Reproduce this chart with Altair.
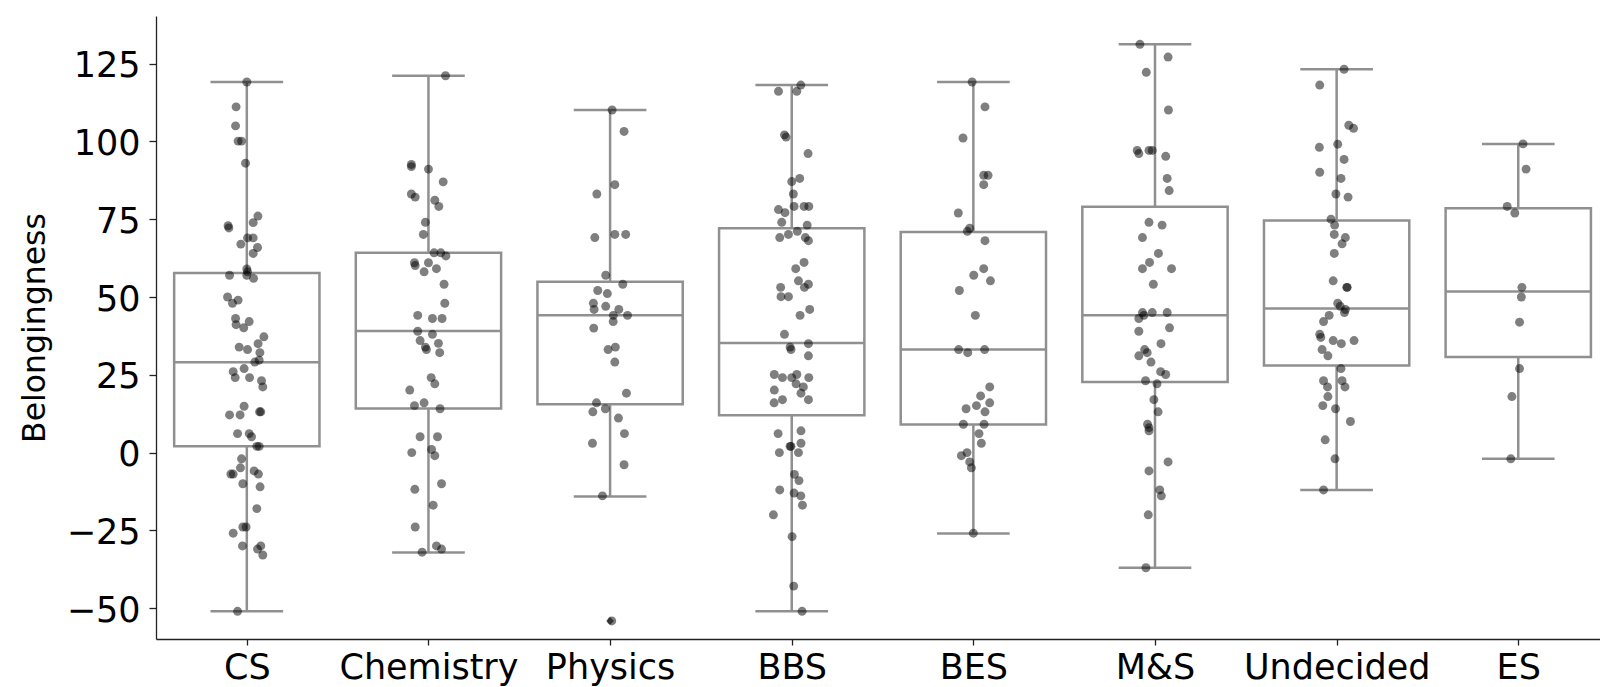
import json
import altair as alt
import pandas as pd

categories = ["CS", "Chemistry", "Physics", "BBS", "BES", "M&S", "Undecided", "ES"]

# Per-category point values and the horizontal jitter
cs_vals = [119.1, 111.1, 105.0, 100.1, 100.1, 93.0, 76.0, 73.9, 72.9, 72.2, 69.0, 69.0, 67.0, 65.9,
           64.0, 59.0, 58.1, 57.0, 57.0, 56.0, 50.0, 48.0, 49.0, 43.1, 42.1, 41.1, 40.1, 37.2, 35.0,
           33.9, 33.1, 32.1, 29.1, 29.7, 26.0, 27.0, 24.1, 24.1, 23.1, 21.1, 14.9, 12.1, 12.1, 13.1,
           13.1, 6.1, 6.1, 5.1, 2.0, 2.0, -2.0, -4.9, -6.9, -6.9, -5.9, -6.9, -10.0, -11.0, -18.0,
           -23.9, -23.9, -25.9, -30.0, -30.0, -31.0, -32.9, -51.0]
cs_jit = [0.0, -0.059, -0.062, -0.048, -0.029, -0.007, 0.061, 0.035, -0.103, -0.099, 0.004, 0.035,
          -0.033, 0.059, 0.035, 0.0, 0.004, -0.095, 0.0, 0.037, -0.106, -0.079, -0.048, -0.062, 0.013,
          -0.059, -0.017, 0.094, 0.062, -0.042, 0.004, 0.072, 0.044, 0.068, -0.075, -0.015, -0.064,
          0.015, 0.081, 0.088, -0.015, -0.095, -0.037, 0.070, 0.077, -0.051, 0.013, 0.026, 0.055,
          0.068, -0.029, -0.035, -0.088, -0.075, 0.040, 0.064, -0.022, 0.073, 0.055, -0.022, -0.004,
          -0.075, -0.024, 0.077, 0.059, 0.088, -0.051]

chem_vals = [121.1, 92.6, 91.9, 91.1, 87.0, 83.1, 82.1, 81.1, 79.1, 74.0, 70.1, 64.2, 64.2, 63.2,
             61.0, 60.1, 61.0, 59.1, 58.1, 54.1, 48.0, 44.1, 43.1, 43.1, 39.0, 38.0, 36.0, 35.1, 33.9,
             33.1, 32.1, 24.1, 22.1, 20.1, 15.1, 16.0, 14.1, 5.1, 5.1, 0.0, 1.0, -1.0, -11.8, -10.0,
             -16.9, -23.9, -30.0, -31.0, -32.0]
chem_jit = [0.094, -0.094, -0.094, 0.0, 0.081, -0.094, -0.073, 0.035, 0.057, -0.017, -0.028, 0.031,
            0.068, 0.096, -0.077, -0.073, 0.0, 0.044, -0.024, 0.086, 0.090, -0.059, 0.022, 0.075,
            -0.059, 0.022, -0.046, 0.055, -0.017, -0.011, 0.062, 0.015, 0.035, -0.103, -0.077, -0.024,
            0.064, -0.046, 0.050, -0.092, 0.017, 0.035, -0.075, 0.072, 0.026, -0.073, 0.044, 0.072,
            -0.035]

phys_vals = [110.1, 103.2, 86.1, 83.1, 70.1, 70.1, 69.1, 57.0, 54.1, 52.1, 51.1, 48.0, 46.0, 47.0,
             46.0, 44.1, 44.1, 42.1, 40.0, 33.1, 33.9, 29.1, 19.1, 16.0, 14.1, 13.1, 11.1, 6.1, 3.0,
             -3.9, -13.9, -54.1]
phys_jit = [0.011, 0.077, 0.026, -0.073, 0.026, 0.086, -0.084, -0.024, 0.070, -0.068, -0.015, -0.092,
            -0.088, -0.024, 0.048, 0.018, 0.096, 0.017, -0.090, -0.011, 0.029, 0.026, 0.090, -0.075,
            -0.026, -0.095, 0.046, 0.079, -0.097, 0.077, -0.042, 0.009]

bbs_vals = [118.1, 116.1, 116.1, 102.1, 101.4, 96.1, 87.1, 88.1, 83.1, 78.1, 77.1, 79.1, 79.1, 79.1,
            74.0, 73.1, 69.1, 70.1, 71.1, 69.1, 68.1, 61.1, 59.1, 55.2, 54.1, 53.1, 53.1, 50.1, 50.1,
            44.1, 46.0, 38.0, 33.9, 33.1, 35.0, 31.1, 25.1, 24.1, 24.1, 25.1, 24.1, 22.1, 21.1, 20.1,
            19.1, 17.0, 16.0, 17.0, 6.1, 7.0, 2.0, 2.0, 3.0, 0.0, 0.0, -7.0, -9.0, -12.0, -13.0, -13.9,
            -16.9, -20.0, -27.0, -42.9, -51.0]
bbs_jit = [0.050, -0.073, 0.028, -0.040, -0.031, 0.090, 0.0, 0.044, 0.009, -0.073, -0.037, 0.013,
           0.068, 0.094, -0.055, 0.085, -0.066, -0.018, 0.031, 0.075, 0.092, 0.068, 0.022, 0.037,
           0.092, 0.070, -0.061, -0.059, -0.018, 0.046, 0.099, -0.040, -0.009, -0.004, 0.092, 0.092,
           -0.096, -0.051, 0.0, 0.028, 0.094, 0.024, 0.064, -0.096, 0.051, -0.051, -0.097, 0.092,
           -0.075, 0.051, -0.009, -0.004, 0.051, -0.068, 0.037, 0.015, 0.040, -0.066, 0.013, 0.050,
           0.059, -0.101, 0.002, 0.011, 0.057]

bes_vals = [119.1, 111.1, 101.1, 89.1, 89.1, 86.1, 77.0, 71.1, 72.1, 68.1, 59.1, 57.0, 55.2, 52.1,
            44.1, 33.1, 32.1, 33.1, 21.1, 18.2, 15.1, 16.0, 13.1, 14.1, 9.1, 9.1, 6.1, 3.0, -1.0, 0.0,
            -3.0, -4.9, -25.9]
bes_jit = [-0.007, 0.064, -0.057, 0.057, 0.081, 0.057, -0.083, -0.033, -0.020, 0.064, 0.057, 0.002,
           0.094, -0.077, 0.011, -0.081, -0.031, 0.062, 0.090, 0.040, 0.017, 0.090, 0.064, -0.040,
           -0.055, 0.059, 0.031, 0.044, -0.066, -0.035, -0.020, -0.011, 0.0]

ms_vals = [131.2, 127.1, 122.2, 110.1, 97.1, 96.1, 97.1, 97.1, 95.2, 88.1, 84.2, 74.0, 73.1, 69.1,
           64.0, 61.1, 59.1, 59.1, 54.1, 45.0, 45.0, 45.0, 43.1, 44.1, 40.1, 39.0, 35.0, 33.1, 32.1,
           31.1, 29.1, 26.0, 25.1, 23.1, 22.1, 17.0, 13.1, 9.1, 8.0, 7.0, -3.0, -5.9, -12.0, -13.9,
           -20.0, -37.0]
ms_jit = [-0.083, 0.072, -0.048, 0.074, -0.098, -0.089, -0.033, -0.015, 0.059, 0.067, 0.078, -0.033,
          0.039, -0.069, 0.019, -0.030, -0.069, 0.091, -0.009, -0.069, -0.015, 0.067, -0.089, -0.061,
          0.080, -0.089, 0.033, -0.057, -0.043, -0.089, -0.022, 0.031, 0.059, -0.052, 0.011, -0.006,
          0.017, -0.041, -0.033, -0.033, 0.072, -0.033, 0.026, 0.035, -0.037, -0.050]

und_vals = [123.2, 118.1, 105.2, 104.2, 98.1, 99.1, 94.2, 90.1, 88.1, 83.1, 82.1, 75.0, 73.1, 70.1,
            69.1, 67.1, 64.0, 55.2, 53.1, 53.1, 48.0, 47.0, 46.0, 45.0, 44.1, 42.1, 38.0, 37.0, 36.0,
            35.0, 36.0, 33.1, 31.1, 27.0, 23.1, 21.1, 23.1, 21.1, 18.0, 15.1, 14.1, 10.0, 4.1, -2.0,
            -12.0]
und_jit = [0.041, -0.093, 0.067, 0.093, -0.095, 0.006, 0.041, -0.093, 0.024, -0.004, 0.063, -0.031,
           -0.011, -0.013, 0.048, 0.030, -0.013, -0.019, 0.056, 0.058, 0.006, 0.020, 0.048, 0.043,
           -0.041, -0.072, -0.093, -0.087, -0.019, 0.026, 0.096, -0.080, -0.048, 0.024, -0.072,
           -0.050, 0.030, 0.046, -0.048, -0.076, -0.006, 0.076, -0.063, -0.009, -0.072]

es_vals = [99.2, 91.1, 79.1, 77.0, 53.1, 50.0, 41.9, 27.0, 18.0, -2.0]
es_jit = [0.026, 0.043, -0.061, -0.019, 0.020, 0.017, 0.007, 0.007, -0.035, -0.041]

# Box statistics
q1 = [2.0, 14.2, 15.5, 12.0, 9.0, 22.7, 28.0, 30.7]
median = [29.0, 39.1, 44.1, 35.2, 33.1, 44.1, 46.3, 51.8]
q3 = [57.7, 64.2, 54.9, 72.1, 70.9, 79.0, 74.6, 78.5]
whisk_lo = [-51.0, -32.1, -14.1, -51.0, -26.0, -37.0, -12.0, -2.0]
whisk_hi = [119.1, 121.1, 110.1, 118.1, 119.1, 131.2, 123.2, 99.2]

# Outlier (flier)
flier_cat = [2]
flier_val = [-54.1]

yticks = [-50, -25, 0, 25, 50, 75, 100, 125]

all_vals = [cs_vals, chem_vals, phys_vals, bbs_vals, bes_vals, ms_vals, und_vals, es_vals]
all_jit = [cs_jit, chem_jit, phys_jit, bbs_jit, bes_jit, ms_jit, und_jit, es_jit]

rows = []
for i, (vs, js) in enumerate(zip(all_vals, all_jit)):
    for v, j in zip(vs, js):
        rows.append({"idx": i, "jit": j, "val": v})
pts = pd.DataFrame(rows)

stats = pd.DataFrame({"idx": list(range(len(categories))), "q1": q1, "med": median,
                      "q3": q3, "lo": whisk_lo, "hi": whisk_hi})
fliers = pd.DataFrame({"idx": flier_cat, "val": flier_val})

GRAY = "#909090"
LW = 2.5

xscale = alt.Scale(domain=[-0.5, 7.45], nice=False, zero=False)
yscale = alt.Scale(domain=[-59.9, 140.3], nice=False, zero=False)
label_expr = json.dumps(categories) + "[datum.value]"
xaxis = alt.Axis(values=list(range(len(categories))), labelExpr=label_expr, grid=False,
                 tickSize=6, labelPadding=5, labelFontSize=35, labelOverlap=False,
                 labelFlush=False, labelBound=False, labelLimit=0)
yaxis = alt.Axis(values=yticks, grid=False, tickSize=7, labelPadding=9, labelFontSize=35,
                 labelOffset=2, titleFontSize=31.5, titlePadding=15, labelOverlap=False,
                 labelLimit=0)
YT = "Belongingness"

base = alt.Chart(stats).transform_calculate(
    left="datum.idx - 0.4", right="datum.idx + 0.4",
    cl="datum.idx - 0.2", cr="datum.idx + 0.2")

box = base.mark_rect(fill="white", stroke=GRAY, strokeWidth=LW).encode(
    x=alt.X("left:Q", scale=xscale, axis=xaxis, title=None),
    x2="right:Q",
    y=alt.Y("q1:Q", scale=yscale, axis=yaxis, title=YT),
    y2="q3:Q")

wlo = base.mark_rule(color=GRAY, strokeWidth=LW).encode(
    x=alt.X("idx:Q", scale=xscale, axis=xaxis, title=None),
    y=alt.Y("lo:Q", scale=yscale, axis=yaxis, title=YT), y2="q1:Q")
whi = base.mark_rule(color=GRAY, strokeWidth=LW).encode(
    x=alt.X("idx:Q", scale=xscale, axis=xaxis, title=None),
    y=alt.Y("q3:Q", scale=yscale, axis=yaxis, title=YT), y2="hi:Q")
clo = base.mark_rule(color=GRAY, strokeWidth=LW).encode(
    x=alt.X("cl:Q", scale=xscale, axis=xaxis, title=None), x2="cr:Q",
    y=alt.Y("lo:Q", scale=yscale, axis=yaxis, title=YT))
chi = base.mark_rule(color=GRAY, strokeWidth=LW).encode(
    x=alt.X("cl:Q", scale=xscale, axis=xaxis, title=None), x2="cr:Q",
    y=alt.Y("hi:Q", scale=yscale, axis=yaxis, title=YT))
med = base.mark_rule(color=GRAY, strokeWidth=LW).encode(
    x=alt.X("left:Q", scale=xscale, axis=xaxis, title=None), x2="right:Q",
    y=alt.Y("med:Q", scale=yscale, axis=yaxis, title=YT))

fl = alt.Chart(fliers).mark_point(shape="diamond", filled=True, color="#555555",
                                   opacity=0.9, size=60).encode(
    x=alt.X("idx:Q", scale=xscale, axis=xaxis, title=None),
    y=alt.Y("val:Q", scale=yscale, axis=yaxis, title=YT))

points = alt.Chart(pts).transform_calculate(pos="datum.idx + datum.jit").mark_circle(
    color="black", opacity=0.5, size=80).encode(
    x=alt.X("pos:Q", scale=xscale, axis=xaxis, title=None),
    y=alt.Y("val:Q", scale=yscale, axis=yaxis, title=YT))

chart = alt.layer(box, wlo, whi, clo, chi, med, fl, points).properties(
    width=1444, height=623, autosize="none",
    padding={"left": 148, "top": 8, "right": 0, "bottom": 48},
    background="white",
).configure_view(stroke=None).configure_axis(
    labelFont="DejaVu Sans", titleFont="DejaVu Sans", labelColor="black",
    titleColor="black", titleFontWeight="normal", domainColor="#222222",
    tickColor="#222222", domainWidth=1.3, tickWidth=1.3)

chart.save("out.html", embed_options={"renderer": "svg", "actions": False})
